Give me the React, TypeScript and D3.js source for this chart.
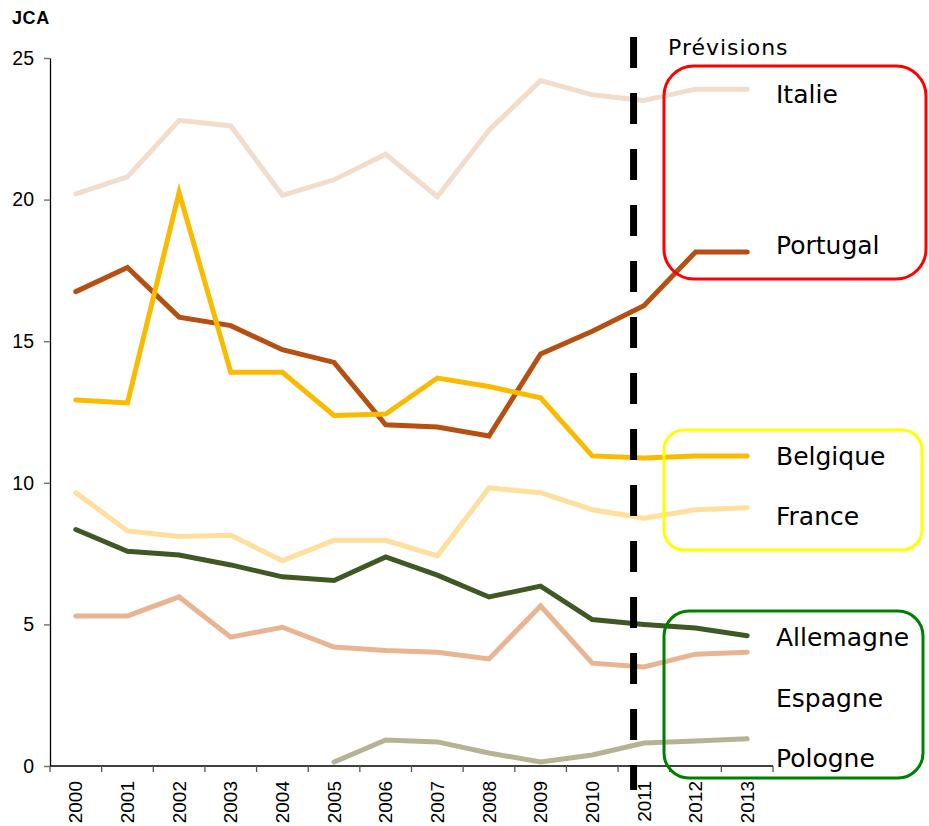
import { useEffect, useMemo, useRef } from "react";
import * as d3 from "d3";

const WIDTH = 929;
const HEIGHT = 826;
const MARGIN = { top: 58, right: 156, bottom: 60, left: 50 };

const years = ["2000", "2001", "2002", "2003", "2004", "2005", "2006", "2007", "2008", "2009", "2010", "2011", "2012", "2013"];
const yTicks = [0, 5, 10, 15, 20, 25];

// values (JCA)
const italie = [20.2, 20.8, 22.8, 22.6, 20.15, 20.7, 21.6, 20.1, 22.45, 24.2, 23.7, 23.5, 23.9, 23.9];
const portugal = [16.75, 17.6, 15.85, 15.55, 14.7, 14.25, 12.05, 11.97, 11.65, 14.55, 15.35, 16.25, 18.15, 18.15];
const belgique = [12.92, 12.82, 20.25, 13.9, 13.9, 12.38, 12.43, 13.7, 13.4, 13.0, 10.95, 10.88, 10.95, 10.95];
const france = [9.65, 8.3, 8.1, 8.15, 7.25, 7.97, 7.97, 7.42, 9.82, 9.65, 9.05, 8.75, 9.05, 9.12];
const allemagne = [8.35, 7.58, 7.45, 7.1, 6.68, 6.55, 7.38, 6.74, 5.97, 6.35, 5.17, 5.0, 4.87, 4.6];
const espagne = [5.3, 5.3, 5.97, 4.55, 4.9, 4.2, 4.08, 4.02, 3.78, 5.65, 3.63, 3.5, 3.95, 4.02];
const pologne = [null, null, null, null, null, 0.14, 0.92, 0.85, 0.46, 0.14, 0.39, 0.81, 0.88, 0.96];

const series = [
  { name: "Italie", values: italie, color: "#F2DDCC" },
  { name: "Portugal", values: portugal, color: "#B54F12" },
  { name: "Belgique", values: belgique, color: "#F9BA00" },
  { name: "France", values: france, color: "#FFDF9E" },
  { name: "Allemagne", values: allemagne, color: "#3F5824" },
  { name: "Espagne", values: espagne, color: "#E8B491" },
  { name: "Pologne", values: pologne, color: "#B6B395" },
];

// label baselines and the rounded boxes grouping them
const labelY = { Italie: 103, Portugal: 254, Belgique: 465, France: 525, Allemagne: 646, Espagne: 707, Pologne: 767 };
const boxes = [
  { color: "#FF0000", x: 664, y: 66, w: 262, h: 213, r: 30 },
  { color: "#FFFF00", x: 664, y: 430, w: 258, h: 120, r: 20 },
  { color: "#008000", x: 664, y: 611, w: 259, h: 167, r: 25 },
];

const LABEL_FONT = "'DejaVu Sans', Verdana, sans-serif";
const AXIS_FONT = "'Liberation Sans', Arial, sans-serif";

export default function App() {
  const yAxisRef = useRef(null);
  const boundsWidth = WIDTH - MARGIN.left - MARGIN.right;
  const boundsHeight = HEIGHT - MARGIN.top - MARGIN.bottom;

  const xScale = useMemo(() => d3.scaleBand().domain(years).range([0, boundsWidth]).padding(0), [boundsWidth]);
  const yScale = useMemo(() => d3.scaleLinear().domain([0, 25]).range([boundsHeight, 0]), [boundsHeight]);

  const step = xScale.step();
  const cx = (y) => xScale(y) + step / 2;

  useEffect(() => {
    const g = d3.select(yAxisRef.current);
    g.selectAll("*").remove();
    const axis = d3.axisLeft(yScale).tickValues(yTicks).tickSize(6).tickPadding(10).tickSizeOuter(0);
    g.call(axis);
    g.select(".domain").attr("stroke", "#000").attr("stroke-width", 1.3);
    g.selectAll(".tick line").attr("stroke", "#777").attr("stroke-width", 1.5);
    g.selectAll(".tick text").attr("font-size", 19.5).attr("font-family", AXIS_FONT).attr("fill", "#000");
  }, [yScale]);

  const line = d3
    .line()
    .defined((d) => d[1] != null)
    .x((d) => cx(d[0]))
    .y((d) => yScale(d[1]));

  // forecast separator sits 80% of the way from 2010 to 2011
  const forecastX = cx("2010") + 0.8 * step;
  const tickXs = [...years.map((y) => xScale(y)), boundsWidth];

  return (
    <svg width={WIDTH} height={HEIGHT} style={{ position: "absolute", left: 0, top: 0, background: "#fff" }}>
      <text x={12} y={24} fontFamily={AXIS_FONT} fontWeight="bold" fontSize={18} letterSpacing={0.6}>
        JCA
      </text>
      <g transform={`translate(${MARGIN.left},${MARGIN.top})`}>
        <g ref={yAxisRef} />
        <line x1={0} x2={boundsWidth} y1={boundsHeight} y2={boundsHeight} stroke="#000" strokeWidth={1.3} />
        {tickXs.map((x, i) => (
          <line key={i} x1={x} x2={x} y1={boundsHeight} y2={boundsHeight + 6} stroke="#555" strokeWidth={1.3} />
        ))}
        {years.map((y) => (
          <text
            key={y}
            transform={`translate(${cx(y)},${boundsHeight + 15}) rotate(-90)`}
            textAnchor="end"
            dy="0.35em"
            fontSize={19}
            fontFamily={AXIS_FONT}
          >
            {y}
          </text>
        ))}
        {series.map((s) => (
          <path
            key={s.name}
            d={line(years.map((y, i) => [y, s.values[i]]))}
            fill="none"
            stroke={s.color}
            strokeWidth={5}
            strokeLinejoin="miter"
            strokeLinecap="round"
          />
        ))}
        <line
          x1={forecastX}
          x2={forecastX}
          y1={37 - MARGIN.top}
          y2={boundsHeight + 24}
          stroke="#000"
          strokeWidth={7}
          strokeDasharray="31 25"
        />
      </g>
      <text x={668} y={55} fontFamily={LABEL_FONT} fontSize={22} letterSpacing={1}>
        Prévisions
      </text>
      {boxes.map((b, i) => (
        <rect key={i} x={b.x} y={b.y} width={b.w} height={b.h} rx={b.r} fill="none" stroke={b.color} strokeWidth={3} />
      ))}
      {series.map((s) => (
        <text key={s.name} x={776} y={labelY[s.name]} fontFamily={LABEL_FONT} fontSize={25}>
          {s.name}
        </text>
      ))}
    </svg>
  );
}
